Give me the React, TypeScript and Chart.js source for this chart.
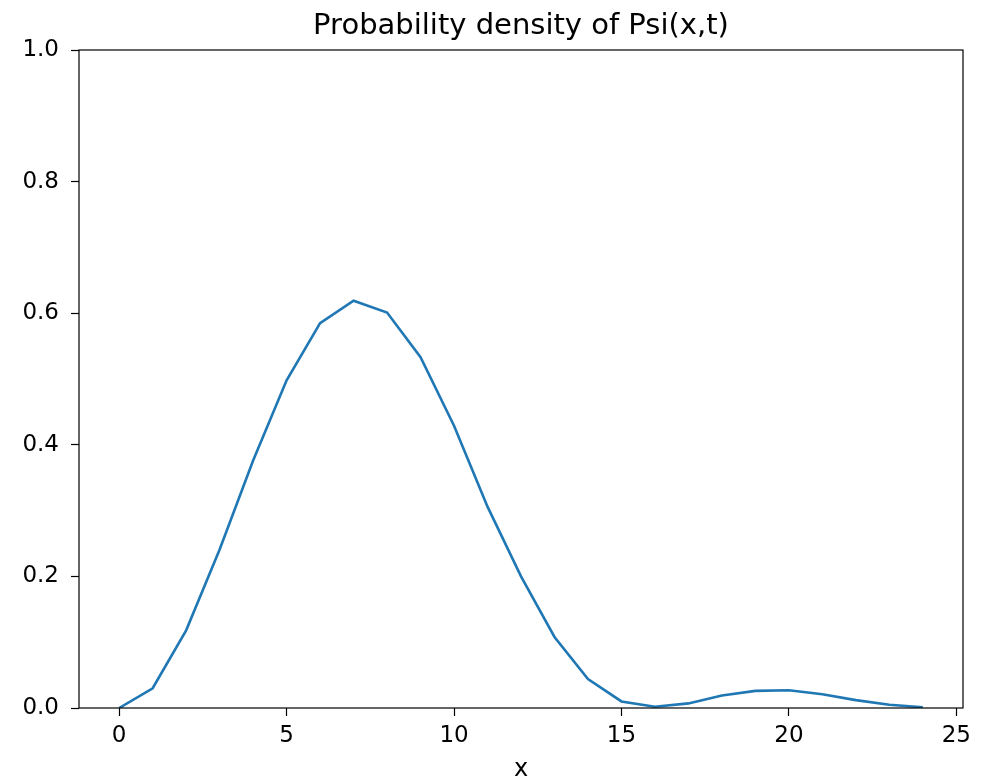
import React, { useEffect, useRef } from "react";
import { Chart, registerables } from "chart.js";

Chart.register(...registerables);

const xValues: number[] = [0, 1, 2, 3, 4, 5, 6, 7, 8, 9, 10, 11, 12, 13, 14, 15, 16, 17, 18, 19, 20, 21, 22, 23, 24];
const density: number[] = [
  0.0, 0.030, 0.118, 0.241, 0.376, 0.498, 0.585, 0.619, 0.601, 0.533,
  0.429, 0.306, 0.200, 0.108, 0.044, 0.010, 0.002, 0.007, 0.019, 0.026,
  0.027, 0.021, 0.012, 0.005, 0.001,
];
const xTicks: number[] = [0, 5, 10, 15, 20, 25];
const titleText = "Probability density of Psi(x,t)";
const xLabel = "x";

const FONT = "'DejaVu Sans', sans-serif";

const framePlugin = {
  id: "frameAndTitle",
  afterDraw(chart: any) {
    const { ctx, chartArea } = chart;
    ctx.save();
    ctx.strokeStyle = "#000";
    ctx.lineWidth = 1.2;
    ctx.strokeRect(chartArea.left, chartArea.top, chartArea.right - chartArea.left, chartArea.bottom - chartArea.top);
    ctx.fillStyle = "#000";
    ctx.font = `29px ${FONT}`;
    ctx.textAlign = "center";
    ctx.textBaseline = "alphabetic";
    ctx.fillText(titleText, (chartArea.left + chartArea.right) / 2, 34);
    ctx.restore();
  },
};

export default function App() {
  const ref = useRef<HTMLCanvasElement | null>(null);
  useEffect(() => {
    document.body.style.margin = "0";
    const canvas = ref.current!;
    const chart = new Chart(canvas, {
      type: "line",
      data: {
        datasets: [
          {
            data: xValues.map((x, i) => ({ x, y: density[i] })),
            borderColor: "#1f77b4",
            borderWidth: 2.6,
            pointRadius: 0,
            fill: false,
            tension: 0,
          },
        ],
      },
      options: {
        animation: false,
        responsive: false,
        maintainAspectRatio: false,
        devicePixelRatio: 1,
        layout: { padding: { left: 0, right: 20, top: 50, bottom: 0 } },
        plugins: { legend: { display: false }, tooltip: { enabled: false }, title: { display: false } },
        scales: {
          x: {
            type: "linear",
            min: -1.2,
            max: 25.2,
            afterBuildTicks: (scale: any) => {
              scale.ticks = xTicks.map((v) => ({ value: v }));
            },
            afterFit: (scale: any) => {
              scale.height = 74;
            },
            border: { display: false },
            grid: { display: true, drawOnChartArea: false, drawTicks: true, tickLength: 8, tickColor: "#000", tickWidth: 1.2 },
            ticks: {
              color: "#000",
              font: { family: FONT, size: 23 },
              padding: 6,
              maxRotation: 0,
              autoSkip: false,
              callback: (v: any) => String(v),
            },
            title: {
              display: true,
              text: xLabel,
              color: "#000",
              font: { family: FONT, size: 24, lineHeight: 1 },
              padding: { top: 0, bottom: 0 },
            },
          },
          y: {
            type: "linear",
            min: 0,
            max: 1,
            afterFit: (scale: any) => {
              scale.width = 79;
            },
            border: { display: false },
            grid: { display: true, drawOnChartArea: false, drawTicks: true, tickLength: 8, tickColor: "#000", tickWidth: 1.2 },
            ticks: {
              stepSize: 0.2,
              color: "#000",
              font: { family: FONT, size: 23 },
              padding: 12,
              callback: (v: any) => Number(v).toFixed(1),
            },
          },
        },
      },
      plugins: [framePlugin],
    });
    return () => chart.destroy();
  }, []);
  return <canvas ref={ref} width={983} height={782} style={{ display: "block" }} />;
}
